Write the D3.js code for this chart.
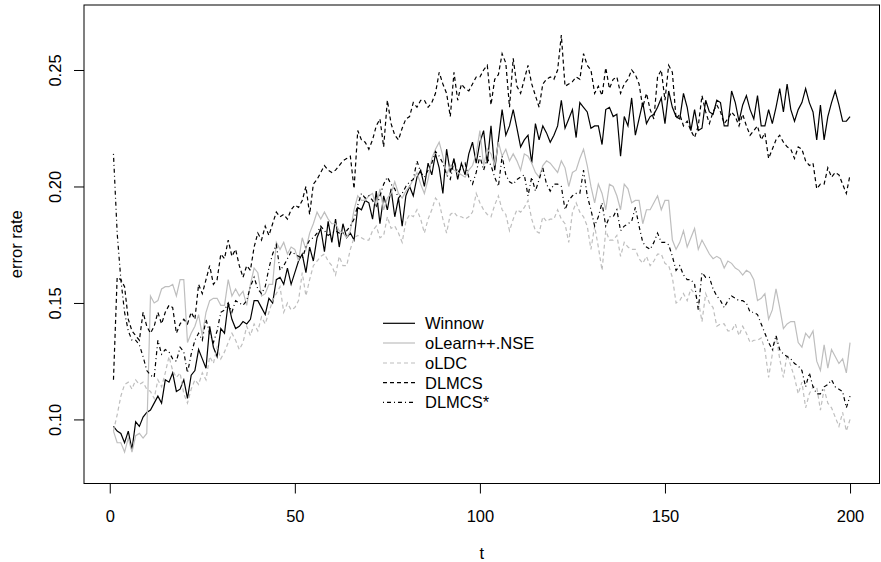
<!DOCTYPE html>
<html>
<head>
<meta charset="utf-8">
<script src="https://cdn.jsdelivr.net/npm/d3@7"></script>
<style>
  body { margin: 0; background: white; }
  svg { font-family: "Liberation Sans", Arial, Helvetica, sans-serif; }
</style>
</head>
<body>
<svg id="chart" width="881" height="562"></svg>
<script>
// time steps 1..200
const steps = d3.range(1, 201);

const winnow = [
  0.097,0.095,0.094,0.090,0.095,0.087,0.099,0.097,0.101,0.103,
  0.104,0.107,0.110,0.107,0.117,0.116,0.120,0.112,0.113,0.117,
  0.109,0.119,0.121,0.130,0.126,0.122,0.140,0.131,0.127,0.139,
  0.137,0.150,0.143,0.139,0.140,0.142,0.141,0.143,0.151,0.151,
  0.148,0.145,0.152,0.150,0.160,0.161,0.158,0.165,0.158,0.163,
  0.168,0.171,0.163,0.174,0.168,0.178,0.182,0.172,0.185,0.176,
  0.186,0.174,0.184,0.178,0.180,0.177,0.191,0.190,0.194,0.193,
  0.186,0.198,0.184,0.196,0.190,0.199,0.187,0.195,0.183,0.196,
  0.200,0.196,0.204,0.207,0.200,0.210,0.205,0.214,0.208,0.197,
  0.216,0.206,0.212,0.203,0.210,0.205,0.214,0.219,0.210,0.219,
  0.224,0.210,0.226,0.207,0.220,0.233,0.222,0.226,0.233,0.225,
  0.217,0.220,0.222,0.210,0.227,0.220,0.226,0.223,0.219,0.222,
  0.226,0.237,0.225,0.229,0.233,0.221,0.236,0.234,0.232,0.225,
  0.226,0.226,0.218,0.233,0.234,0.230,0.231,0.213,0.230,0.226,
  0.238,0.222,0.229,0.236,0.227,0.230,0.231,0.234,0.238,0.227,
  0.241,0.234,0.230,0.229,0.240,0.234,0.224,0.233,0.224,0.225,
  0.237,0.232,0.231,0.237,0.236,0.226,0.226,0.241,0.236,0.228,
  0.235,0.239,0.233,0.229,0.239,0.226,0.226,0.233,0.227,0.234,
  0.242,0.232,0.244,0.233,0.228,0.233,0.236,0.242,0.236,0.232,
  0.220,0.235,0.220,0.230,0.236,0.241,0.235,0.228,0.228,0.230
];

const olearn = [
  0.095,0.090,0.090,0.086,0.092,0.086,0.093,0.094,0.092,0.094,
  0.153,0.150,0.151,0.156,0.157,0.157,0.158,0.153,0.160,0.160,
  0.133,0.137,0.140,0.145,0.136,0.146,0.151,0.152,0.152,0.149,
  0.149,0.160,0.153,0.156,0.153,0.155,0.149,0.158,0.165,0.163,
  0.153,0.154,0.158,0.158,0.176,0.173,0.176,0.171,0.174,0.173,
  0.168,0.178,0.173,0.180,0.184,0.189,0.186,0.189,0.186,0.184,
  0.184,0.181,0.180,0.178,0.181,0.190,0.196,0.194,0.194,0.196,
  0.197,0.191,0.199,0.190,0.195,0.197,0.202,0.197,0.195,0.198,
  0.200,0.203,0.206,0.201,0.197,0.203,0.212,0.216,0.219,0.213,
  0.205,0.209,0.207,0.206,0.205,0.204,0.207,0.209,0.214,0.224,
  0.209,0.216,0.214,0.209,0.219,0.213,0.216,0.211,0.214,0.211,
  0.207,0.214,0.213,0.210,0.206,0.204,0.209,0.211,0.210,0.208,
  0.206,0.211,0.208,0.200,0.206,0.207,0.212,0.216,0.209,0.200,
  0.193,0.201,0.197,0.190,0.201,0.200,0.196,0.190,0.201,0.199,
  0.193,0.194,0.194,0.184,0.190,0.190,0.193,0.196,0.190,0.194,
  0.194,0.177,0.173,0.176,0.181,0.174,0.178,0.182,0.173,0.177,
  0.174,0.171,0.169,0.170,0.169,0.165,0.168,0.167,0.165,0.164,
  0.162,0.164,0.163,0.160,0.151,0.152,0.154,0.143,0.147,0.156,
  0.148,0.139,0.141,0.142,0.142,0.133,0.131,0.137,0.135,0.138,
  0.125,0.121,0.132,0.122,0.130,0.127,0.124,0.126,0.120,0.133
];

const oldc = [
  0.095,0.102,0.110,0.115,0.116,0.113,0.117,0.115,0.116,0.113,
  0.112,0.109,0.117,0.114,0.120,0.127,0.121,0.118,0.120,0.111,
  0.107,0.113,0.117,0.115,0.120,0.117,0.127,0.124,0.131,0.126,
  0.129,0.133,0.137,0.134,0.130,0.133,0.140,0.136,0.141,0.138,
  0.144,0.141,0.146,0.151,0.154,0.157,0.146,0.150,0.147,0.148,
  0.151,0.163,0.153,0.160,0.166,0.168,0.170,0.171,0.168,0.166,
  0.162,0.170,0.166,0.166,0.173,0.178,0.179,0.178,0.177,0.177,
  0.181,0.183,0.178,0.179,0.187,0.182,0.183,0.180,0.176,0.185,
  0.188,0.187,0.190,0.186,0.180,0.186,0.190,0.195,0.193,0.186,
  0.180,0.188,0.189,0.187,0.187,0.186,0.187,0.189,0.197,0.193,
  0.190,0.188,0.187,0.192,0.196,0.190,0.188,0.181,0.186,0.190,
  0.189,0.191,0.194,0.186,0.181,0.180,0.187,0.185,0.186,0.186,
  0.190,0.186,0.184,0.176,0.189,0.193,0.189,0.187,0.183,0.173,
  0.183,0.174,0.164,0.181,0.177,0.177,0.179,0.170,0.176,0.174,
  0.173,0.173,0.169,0.167,0.170,0.166,0.168,0.171,0.171,0.167,
  0.166,0.161,0.150,0.151,0.154,0.151,0.156,0.154,0.151,0.142,
  0.154,0.150,0.148,0.140,0.141,0.141,0.138,0.138,0.141,0.136,
  0.140,0.137,0.133,0.134,0.134,0.135,0.130,0.118,0.128,0.136,
  0.126,0.118,0.128,0.123,0.118,0.111,0.116,0.105,0.111,0.114,
  0.114,0.104,0.113,0.107,0.105,0.101,0.097,0.103,0.095,0.100
];

const dlmcs = [
  0.117,0.161,0.160,0.157,0.143,0.138,0.136,0.134,0.146,0.140,
  0.137,0.140,0.146,0.141,0.146,0.149,0.148,0.137,0.141,0.143,
  0.141,0.146,0.143,0.158,0.154,0.160,0.166,0.158,0.160,0.171,
  0.169,0.177,0.170,0.173,0.166,0.161,0.166,0.164,0.174,0.180,
  0.177,0.183,0.179,0.184,0.189,0.187,0.188,0.186,0.190,0.192,
  0.191,0.194,0.200,0.188,0.201,0.203,0.206,0.209,0.207,0.206,
  0.207,0.209,0.211,0.212,0.213,0.199,0.224,0.220,0.219,0.216,
  0.220,0.226,0.229,0.217,0.237,0.227,0.222,0.220,0.225,0.229,
  0.230,0.236,0.234,0.237,0.237,0.234,0.236,0.240,0.249,0.244,
  0.240,0.230,0.249,0.237,0.244,0.242,0.241,0.244,0.247,0.247,
  0.250,0.252,0.235,0.246,0.248,0.257,0.253,0.234,0.255,0.243,
  0.240,0.246,0.252,0.244,0.239,0.234,0.244,0.246,0.247,0.246,
  0.250,0.265,0.243,0.244,0.245,0.247,0.246,0.257,0.252,0.250,
  0.240,0.243,0.239,0.251,0.242,0.246,0.247,0.240,0.244,0.246,
  0.250,0.248,0.244,0.234,0.240,0.233,0.229,0.247,0.250,0.237,
  0.252,0.249,0.229,0.231,0.226,0.228,0.224,0.221,0.226,0.239,
  0.232,0.227,0.232,0.235,0.232,0.227,0.229,0.232,0.230,0.226,
  0.231,0.226,0.222,0.224,0.226,0.220,0.223,0.212,0.216,0.220,
  0.222,0.219,0.217,0.216,0.212,0.217,0.216,0.211,0.209,0.210,
  0.199,0.201,0.201,0.208,0.204,0.206,0.205,0.201,0.197,0.205
];

const dlmcsStar = [
  0.214,0.180,0.160,0.146,0.138,0.134,0.134,0.132,0.127,0.121,
  0.119,0.118,0.134,0.128,0.130,0.129,0.126,0.125,0.131,0.129,
  0.120,0.128,0.134,0.137,0.134,0.143,0.137,0.133,0.138,0.146,
  0.147,0.150,0.146,0.151,0.150,0.149,0.151,0.157,0.161,0.156,
  0.154,0.157,0.165,0.171,0.175,0.164,0.166,0.169,0.172,0.171,
  0.170,0.169,0.174,0.177,0.178,0.180,0.183,0.181,0.179,0.180,
  0.181,0.180,0.180,0.181,0.183,0.186,0.192,0.197,0.195,0.196,
  0.194,0.191,0.196,0.201,0.204,0.201,0.199,0.195,0.197,0.200,
  0.202,0.203,0.211,0.206,0.204,0.207,0.210,0.215,0.213,0.210,
  0.205,0.203,0.211,0.206,0.208,0.210,0.204,0.201,0.206,0.213,
  0.207,0.212,0.209,0.204,0.200,0.213,0.205,0.202,0.201,0.203,
  0.204,0.205,0.196,0.204,0.198,0.203,0.208,0.201,0.198,0.201,
  0.201,0.200,0.190,0.194,0.196,0.197,0.197,0.207,0.196,0.190,
  0.183,0.187,0.193,0.183,0.187,0.187,0.190,0.181,0.183,0.184,
  0.185,0.191,0.183,0.176,0.174,0.173,0.176,0.180,0.176,0.176,
  0.175,0.170,0.164,0.166,0.162,0.160,0.160,0.158,0.147,0.163,
  0.161,0.161,0.156,0.153,0.151,0.148,0.151,0.153,0.152,0.151,
  0.151,0.150,0.146,0.146,0.145,0.141,0.137,0.133,0.130,0.136,
  0.130,0.128,0.127,0.126,0.124,0.123,0.121,0.114,0.120,0.114,
  0.111,0.111,0.114,0.115,0.117,0.114,0.113,0.112,0.105,0.110
];

const seriesNames = ["Winnow", "oLearn++.NSE", "oLDC", "DLMCS", "DLMCS*"];
const seriesValues = [winnow, olearn, oldc, dlmcs, dlmcsStar];
const seriesColors = ["#000000", "#bebebe", "#bebebe", "#000000", "#000000"];
const seriesDash = [null, null, "4,3", "4,3", "1,3,4,3"];

const xTicks = [0, 50, 100, 150, 200];
const yTicks = [0.10, 0.15, 0.20, 0.25];

const svg = d3.select("#chart");
const box = { left: 84, top: 5, right: 879.5, bottom: 483.5 };

// R style 4% padding on both axes
const x = d3.scaleLinear().domain([-6.96, 207.96]).range([box.left, box.right]);
const y = d3.scaleLinear().domain([0.0725, 0.2779]).range([box.bottom, box.top]);

const line = d3.line()
  .x((d, i) => x(steps[i]))
  .y(d => y(d));

seriesValues.forEach(function(vals, k) {
  svg.append("path")
    .datum(vals)
    .attr("d", line)
    .attr("fill", "none")
    .attr("stroke", seriesColors[k])
    .attr("stroke-width", 1.2)
    .attr("stroke-dasharray", seriesDash[k]);
});

// plot frame
svg.append("rect")
  .attr("x", box.left).attr("y", box.top)
  .attr("width", box.right - box.left).attr("height", box.bottom - box.top)
  .attr("fill", "none").attr("stroke", "#000").attr("stroke-width", 1);

// x axis
const xAxis = svg.append("g")
  .attr("transform", `translate(0,${box.bottom})`)
  .call(d3.axisBottom(x).tickValues(xTicks).tickSize(10).tickSizeOuter(0).tickPadding(17));
xAxis.select(".domain").remove();
xAxis.selectAll("text").attr("font-size", 16.5).attr("font-family", null).attr("fill", "#000");
xAxis.selectAll("line").attr("stroke", "#000");

// y axis, labels turned like R
const yAxis = svg.append("g")
  .attr("transform", `translate(${box.left},0)`)
  .call(d3.axisLeft(y).tickValues(yTicks).tickFormat(d3.format(".2f")).tickSize(10).tickSizeOuter(0));
yAxis.select(".domain").remove();
yAxis.selectAll("line").attr("stroke", "#000");
yAxis.selectAll("text")
  .attr("font-size", 16.5).attr("font-family", null).attr("fill", "#000")
  .attr("x", null).attr("dy", null)
  .attr("text-anchor", "middle")
  .attr("transform", "translate(-23,0) rotate(-90)");

// axis titles
svg.append("text")
  .attr("x", (box.left + box.right) / 2).attr("y", 559)
  .attr("text-anchor", "middle").attr("font-size", 16.5)
  .text("t");

svg.append("text")
  .attr("transform", `translate(22,${(box.top + box.bottom) / 2}) rotate(-90)`)
  .attr("text-anchor", "middle").attr("font-size", 16.5)
  .text("error rate");

// legend, no border
const legendY = [323.3, 343, 363, 382.7, 402.3];
const legend = svg.append("g");
seriesNames.forEach(function(name, k) {
  legend.append("line")
    .attr("x1", 383).attr("x2", 415)
    .attr("y1", legendY[k]).attr("y2", legendY[k])
    .attr("stroke", seriesColors[k]).attr("stroke-width", 1.2)
    .attr("stroke-dasharray", seriesDash[k]);
  legend.append("text")
    .attr("x", 425).attr("y", legendY[k])
    .attr("dominant-baseline", "central")
    .attr("font-size", 16.5)
    .text(name);
});
</script>
</body>
</html>
